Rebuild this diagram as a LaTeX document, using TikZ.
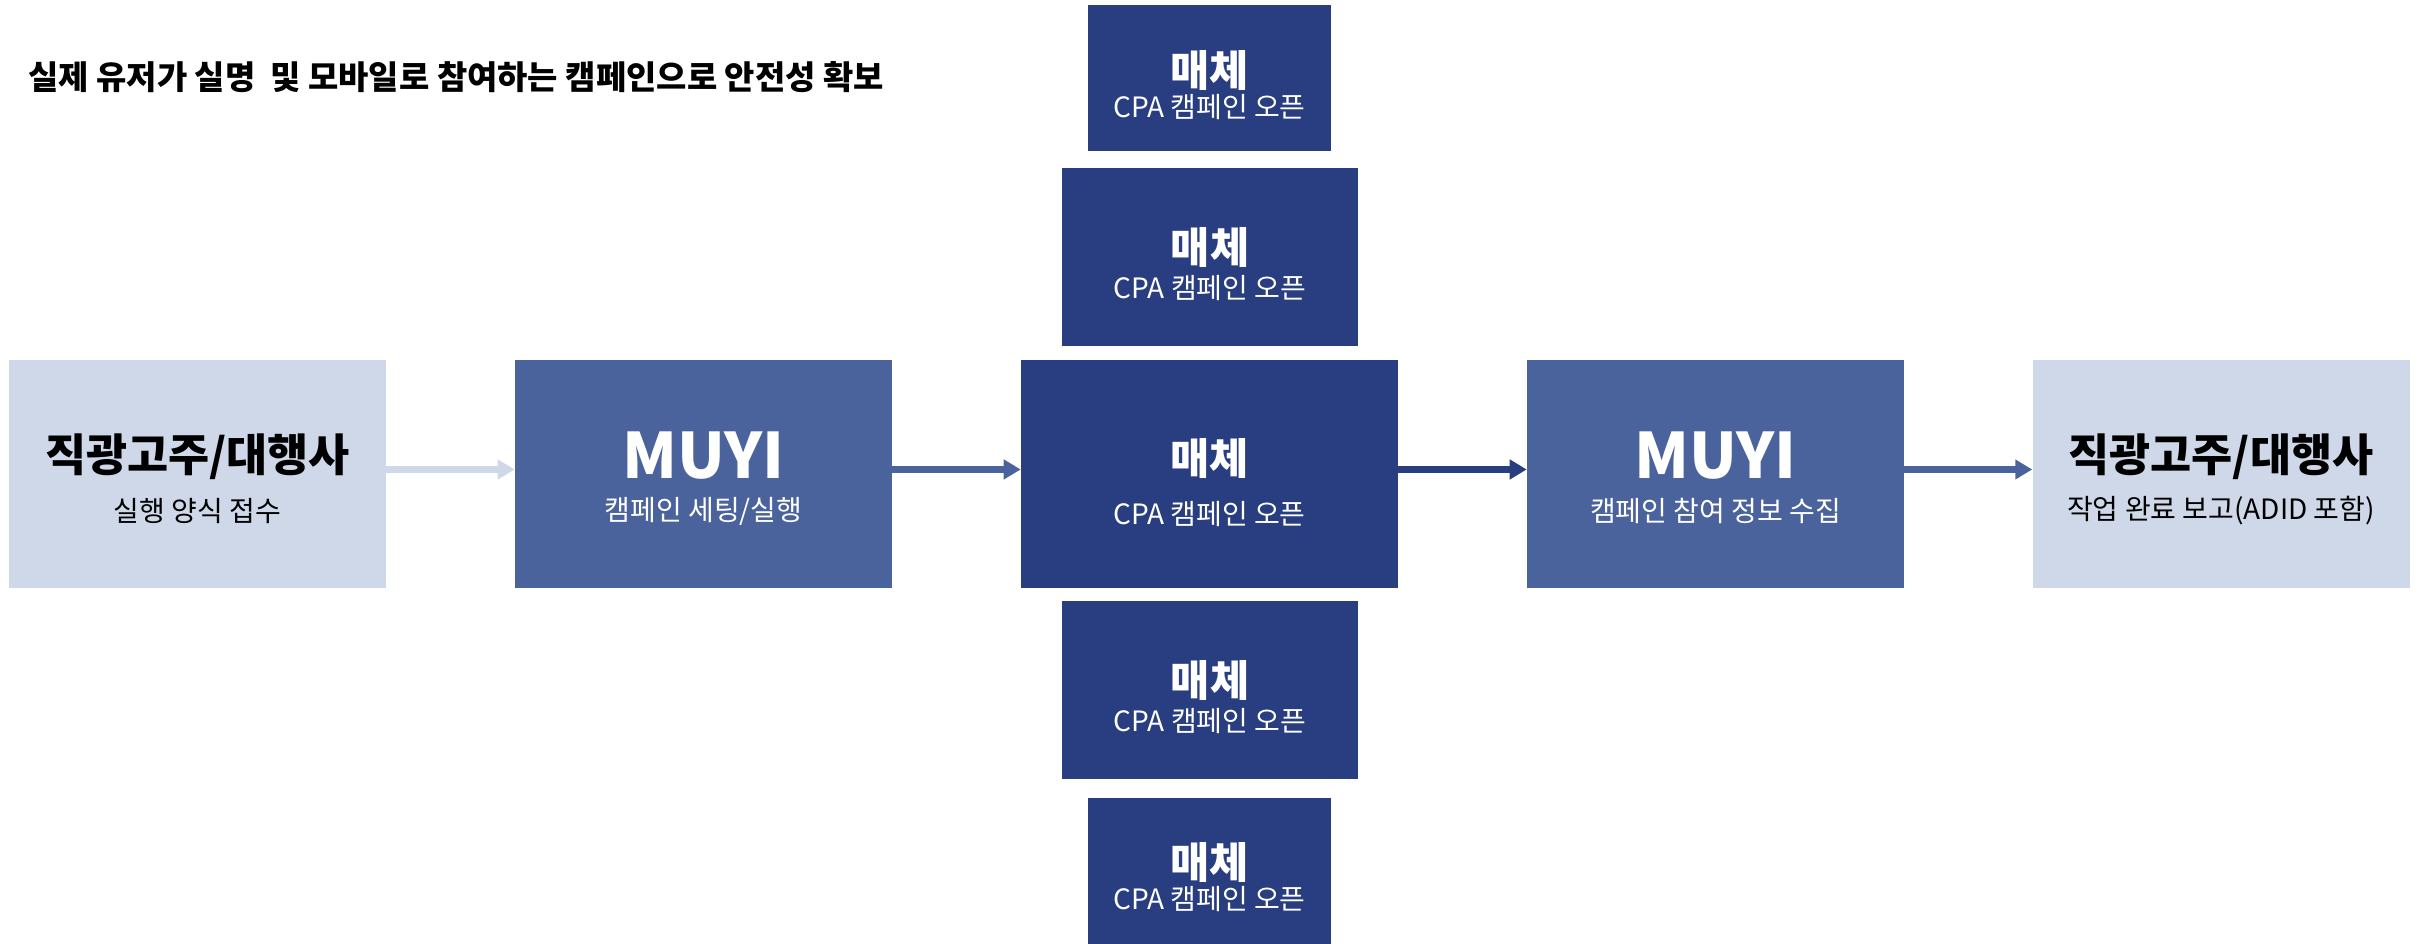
\documentclass[tikz,border=0pt]{standalone}
\usepackage{fontspec}
\setmainfont{Noto Sans CJK KR}
\usetikzlibrary{arrows.meta}
\definecolor{lightbox}{RGB}{207,216,233}
\definecolor{midbox}{RGB}{74,99,156}
\definecolor{darkbox}{RGB}{41,62,128}
\begin{document}
\begin{tikzpicture}[x=0.75pt,y=0.75pt,yscale=-1,xscale=1,
    mainbox/.style={rectangle,inner sep=0pt,minimum width=282.75pt,minimum height=171pt},
    outbox/.style={rectangle,inner sep=0pt,minimum width=222pt,minimum height=133.5pt,fill=darkbox},
    edgebox/.style={rectangle,inner sep=0pt,minimum width=182.25pt,minimum height=109.5pt,fill=darkbox},
    bigtxt/.style={inner sep=0pt,font=\bfseries\fontsize{33.5pt}{38pt}\selectfont},
    muyitxt/.style={inner sep=0pt,font=\bfseries\fontsize{47pt}{52pt}\selectfont,text=white},
    medtxt/.style={inner sep=0pt,font=\bfseries\fontsize{32pt}{36pt}\selectfont,text=white},
    subtxt/.style={inner sep=0pt,font=\fontsize{21pt}{25pt}\selectfont},
    flow/.style={line width=5.25pt,-{Triangle[length=12.75pt,width=14.25pt]}}]
\useasboundingbox (0,0) rectangle (2425,943);

% Title
\node [anchor=west,inner sep=0pt,font=\bfseries\fontsize{24.7pt}{29pt}\selectfont] (title) at (28,77) {실제 유저가 실명 \ 및 모바일로 참여하는 캠페인으로 안전성 확보};

% Main row
\node [mainbox,fill=lightbox] (client) at (197.5,474) {};
\node [mainbox,fill=midbox] (muyiA) at (703.5,474) {};
\node [mainbox,fill=darkbox] (media) at (1209.5,474) {};
\node [mainbox,fill=midbox] (muyiB) at (1715.5,474) {};
\node [mainbox,fill=lightbox] (report) at (2221,474) {};

% Media boxes above and below
\node [edgebox] (mediaT) at (1209.5,78) {};
\node [outbox] (mediaU) at (1210,257) {};
\node [outbox] (mediaD) at (1210,690) {};
\node [edgebox] (mediaB) at (1209.5,870.5) {};

% Texts
\node [bigtxt] (clientT) at (197.5,457) {직광고주/대행사};
\node [subtxt] (clientS) at (197.5,511) {실행 양식 접수};
\node [muyitxt] (muyiAT) at (703.5,456) {MUYI};
\node [subtxt,text=white] (muyiAS) at (703.5,511) {캠페인 세팅/실행};
\node [medtxt] (mediaTT) at (1209.5,458) {매체};
\node [subtxt,text=white] (mediaS) at (1209.5,514) {CPA 캠페인 오픈};
\node [muyitxt] (muyiBT) at (1715.5,456) {MUYI};
\node [subtxt,text=white] (muyiBS) at (1715.5,511) {캠페인 참여 정보 수집};
\node [bigtxt] (reportT) at (2221,457) {직광고주/대행사};
\node [subtxt] (reportS) at (2221,511) {작업 완료 보고(ADID 포함)};

\node [medtxt] (m1T) at (1209.5,70) {매체};
\node [subtxt,text=white] (m1S) at (1209.5,107) {CPA 캠페인 오픈};
\node [medtxt] (m2T) at (1210,247) {매체};
\node [subtxt,text=white] (m2S) at (1210,288) {CPA 캠페인 오픈};
\node [medtxt] (m3T) at (1210,680) {매체};
\node [subtxt,text=white] (m3S) at (1210,721) {CPA 캠페인 오픈};
\node [medtxt] (m4T) at (1209.5,862) {매체};
\node [subtxt,text=white] (m4S) at (1209.5,899) {CPA 캠페인 오픈};

% Arrows
\draw [flow,color=lightbox] ([yshift=-3.4pt]client.east) -- ([yshift=-3.4pt]muyiA.west);
\draw [flow,color=midbox] ([yshift=-3.4pt]muyiA.east) -- ([yshift=-3.4pt]media.west);
\draw [flow,color=darkbox] ([yshift=-3.4pt]media.east) -- ([yshift=-3.4pt]muyiB.west);
\draw [flow,color=midbox] ([yshift=-3.4pt]muyiB.east) -- ([yshift=-3.4pt]report.west);
\end{tikzpicture}
\end{document}
